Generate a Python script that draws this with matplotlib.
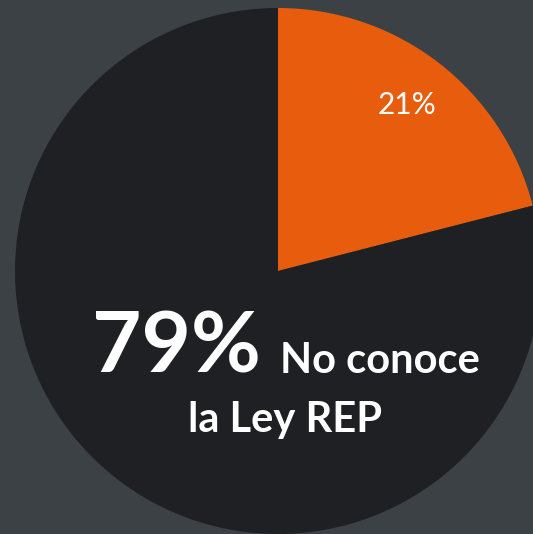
import matplotlib.pyplot as plt

# Data
labels = ['Conoce', 'No conoce']
values = [21, 79]
colors = ['#e85c0d', '#1e2023']
bg_color = '#3c4145'
main_label = 'No conoce'
main_label_2 = 'la Ley REP'

plt.rcParams['font.family'] = ['Lato', 'DejaVu Sans']

W, H = 533, 534
fig = plt.figure(figsize=(W / 100, H / 100), dpi=100)
fig.patch.set_facecolor(bg_color)

# pie centre (278, 271) px from top-left, radius 263 px
cx, cy, r = 278, 271, 263
ax = fig.add_axes([(cx - r) / W, (H - cy - r) / H, 2 * r / W, 2 * r / H])
ax.set_facecolor(bg_color)


def first_only(pct):
    return '{:.0f}%'.format(pct) if pct < 50 else ''


wedges, texts, autotexts = ax.pie(values, colors=colors, startangle=90, counterclock=False,
                                  autopct=first_only, pctdistance=0.80, radius=1,
                                  wedgeprops=dict(linewidth=0))
for t in autotexts:
    t.set_color('white')
    t.set_fontsize(21.5)

ax.set_xlim(-1, 1)
ax.set_ylim(-1, 1)
ax.set_aspect('equal')
ax.axis('off')

# Big annotation for the majority slice
ax.text(-0.707, -0.386, '{}%'.format(values[1]), color='white', fontsize=61.5,
        fontweight='bold', ha='left', va='baseline')
ax.text(0.008, -0.388, main_label, color='white', fontsize=30,
        fontweight='bold', ha='left', va='baseline')
ax.text(0.027, -0.612, main_label_2, color='white', fontsize=30,
        fontweight='bold', ha='center', va='baseline')

fig.savefig('out.png', dpi=100, facecolor=bg_color)
